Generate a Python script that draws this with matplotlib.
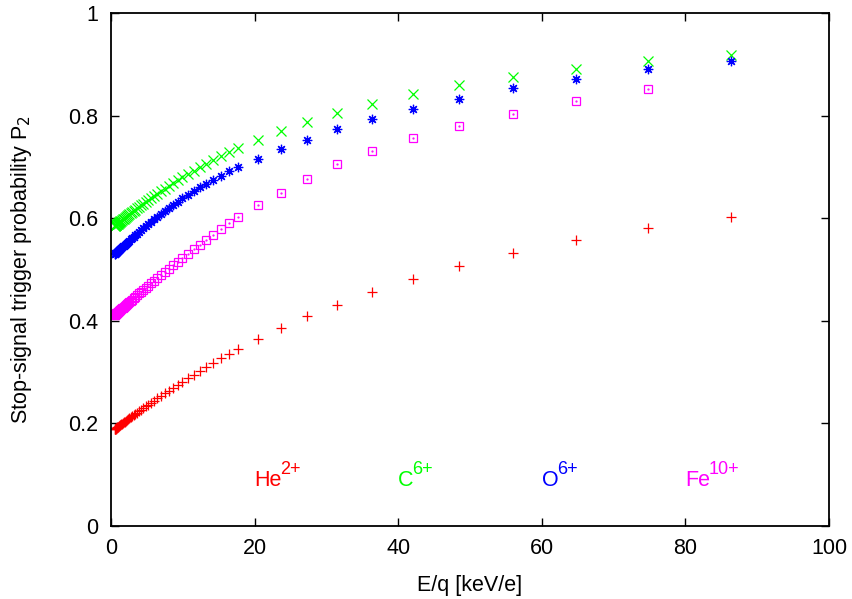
import matplotlib
matplotlib.use("Agg")
import matplotlib.pyplot as plt

plt.rcParams.update({
    "font.family": ["Liberation Sans", "DejaVu Sans"],
    "font.size": 15.5,
    "mathtext.fontset": "custom",
    "mathtext.rm": "Liberation Sans",
    "mathtext.it": "Liberation Sans:italic",
    "mathtext.bf": "Liberation Sans:bold",
})

# E/q steps [keV/e]: fine steps below ~18 keV/e, coarse steps above
eq_fine = [0.52, 0.56, 0.60, 0.64, 0.69, 0.74, 0.80, 0.86, 0.92, 0.99,
           1.07, 1.15, 1.23, 1.32, 1.42, 1.53, 1.64, 1.77, 1.90, 2.04,
           2.19, 2.36, 2.53, 2.72, 2.92, 3.14, 3.38, 3.63, 3.90, 4.19,
           4.50, 4.84, 5.20, 5.59, 6.01, 6.46, 6.94, 7.46, 8.01, 8.61,
           9.26, 9.95, 10.69, 11.49, 12.35, 13.27, 14.26, 15.33, 16.47, 17.70]
eq_coarse = [20.44, 23.61, 27.27, 31.50, 36.38, 42.02, 48.53, 56.05, 64.74, 74.77, 86.36]

# stop-signal trigger probability P2 per species
p2_he = [0.1886, 0.1891, 0.1895, 0.1899, 0.1905, 0.1910, 0.1916, 0.1922, 0.1929, 0.1936,
         0.1945, 0.1953, 0.1962, 0.1971, 0.1982, 0.1993, 0.2005, 0.2019, 0.2032, 0.2047,
         0.2063, 0.2080, 0.2098, 0.2117, 0.2138, 0.2161, 0.2185, 0.2211, 0.2238, 0.2266,
         0.2298, 0.2332, 0.2368, 0.2406, 0.2446, 0.2490, 0.2536, 0.2585, 0.2636, 0.2692,
         0.2751, 0.2814, 0.2879, 0.2949, 0.3023, 0.3100, 0.3181, 0.3267, 0.3357, 0.3450,
         0.364, 0.385, 0.409, 0.431, 0.456, 0.481, 0.507, 0.532, 0.557, 0.580, 0.603]
p2_c = [0.5850, 0.5855, 0.5860, 0.5864, 0.5870, 0.5876, 0.5883, 0.5889, 0.5896, 0.5904,
        0.5913, 0.5922, 0.5932, 0.5942, 0.5953, 0.5965, 0.5978, 0.5992, 0.6006, 0.6022,
        0.6039, 0.6057, 0.6076, 0.6096, 0.6118, 0.6142, 0.6167, 0.6194, 0.6222, 0.6252,
        0.6284, 0.6319, 0.6355, 0.6394, 0.6435, 0.6479, 0.6525, 0.6574, 0.6624, 0.6679,
        0.6736, 0.6796, 0.6858, 0.6923, 0.6991, 0.7061, 0.7133, 0.7208, 0.7283, 0.7360,
        0.752, 0.769, 0.787, 0.805, 0.823, 0.842, 0.860, 0.876, 0.891, 0.906, 0.919]
p2_o = [0.5301, 0.5306, 0.5312, 0.5317, 0.5325, 0.5330, 0.5338, 0.5347, 0.5355, 0.5364,
        0.5374, 0.5385, 0.5396, 0.5408, 0.5421, 0.5435, 0.5449, 0.5466, 0.5483, 0.5501,
        0.5520, 0.5542, 0.5564, 0.5588, 0.5613, 0.5640, 0.5670, 0.5700, 0.5733, 0.5768,
        0.5805, 0.5844, 0.5886, 0.5931, 0.5978, 0.6028, 0.6080, 0.6135, 0.6192, 0.6254,
        0.6318, 0.6384, 0.6453, 0.6525, 0.6599, 0.6675, 0.6753, 0.6832, 0.6911, 0.6990,
        0.715, 0.734, 0.752, 0.773, 0.793, 0.813, 0.833, 0.853, 0.872, 0.890, 0.907]
# Fe has no point at the highest step
p2_fe = [0.4116, 0.4121, 0.4126, 0.4131, 0.4138, 0.4144, 0.4151, 0.4158, 0.4166, 0.4175,
         0.4185, 0.4195, 0.4205, 0.4216, 0.4229, 0.4243, 0.4257, 0.4272, 0.4289, 0.4306,
         0.4324, 0.4345, 0.4366, 0.4389, 0.4413, 0.4440, 0.4470, 0.4500, 0.4532, 0.4567,
         0.4604, 0.4644, 0.4687, 0.4733, 0.4782, 0.4834, 0.4889, 0.4949, 0.5011, 0.5079,
         0.5150, 0.5226, 0.5307, 0.5393, 0.5483, 0.5579, 0.5681, 0.5789, 0.5901, 0.6020,
         0.626, 0.650, 0.677, 0.705, 0.731, 0.756, 0.780, 0.804, 0.828, 0.851]

eq_all = eq_fine + eq_coarse
ion_names = ["He", "C", "O", "Fe"]
ion_charges = ["2+", "6+", "6+", "10+"]
label_x = [20, 40, 60, 80]
label_y = 0.078

RED, GREEN, BLUE, MAGENTA = "#ff0000", "#00ff00", "#0000ff", "#ff00ff"

fig = plt.figure(figsize=(8.52, 5.99), dpi=100)
ax = fig.add_axes([0.1303, 0.1219, 0.8427, 0.8564])

mk = dict(linestyle="none", markersize=6.8, markeredgewidth=0.9, fillstyle="none")
ax.plot(eq_all, p2_he, marker="+", color=RED, **mk)
ax.plot(eq_all, p2_c, marker="x", color=GREEN, **mk)
ax.plot(eq_all, p2_o, marker=(8, 2, 0), color=BLUE, **mk)
ax.plot(eq_all[:len(p2_fe)], p2_fe, marker="s", color=MAGENTA,
        linestyle="none", markersize=5.8, markeredgewidth=0.9, markerfacecolor="none")
ax.plot(eq_all[:len(p2_fe)], p2_fe, marker=".", color=MAGENTA,
        linestyle="none", markersize=1.2)

# ion labels with gnuplot-style (large) superscripts
for name, charge, xpos, c in zip(ion_names, ion_charges, label_x,
                                 [RED, GREEN, BLUE, MAGENTA]):
    t = ax.text(xpos, label_y, name, color=c, ha="left", va="baseline")
    ax.annotate(charge, xy=(1.0, label_y), xycoords=(t, "data"),
                xytext=(-1.0, 8.5), textcoords="offset points",
                color=c, fontsize=13, ha="left", va="baseline")

ax.set_xlim(0, 100)
ax.set_ylim(0, 1)
ax.set_xticks([0, 20, 40, 60, 80, 100])
ax.set_yticks([0, 0.2, 0.4, 0.6, 0.8, 1])
ax.set_yticklabels(["0", "0.2", "0.4", "0.6", "0.8", "1"])
ax.tick_params(direction="in", length=6, width=1.0, top=True, right=True)
ax.tick_params(axis="x", pad=9)
ax.tick_params(axis="y", pad=9)
for s in ax.spines.values():
    s.set_linewidth(1.3)

ax.set_xlabel("E/q [keV/e]")
ax.set_ylabel("Stop-signal trigger probability P$_{\\mathsf{2}}$")
ax.xaxis.set_label_coords(0.5, -0.095)
ax.yaxis.set_label_coords(-0.107, 0.5)

fig.savefig("out.png", dpi=100, facecolor="white")
